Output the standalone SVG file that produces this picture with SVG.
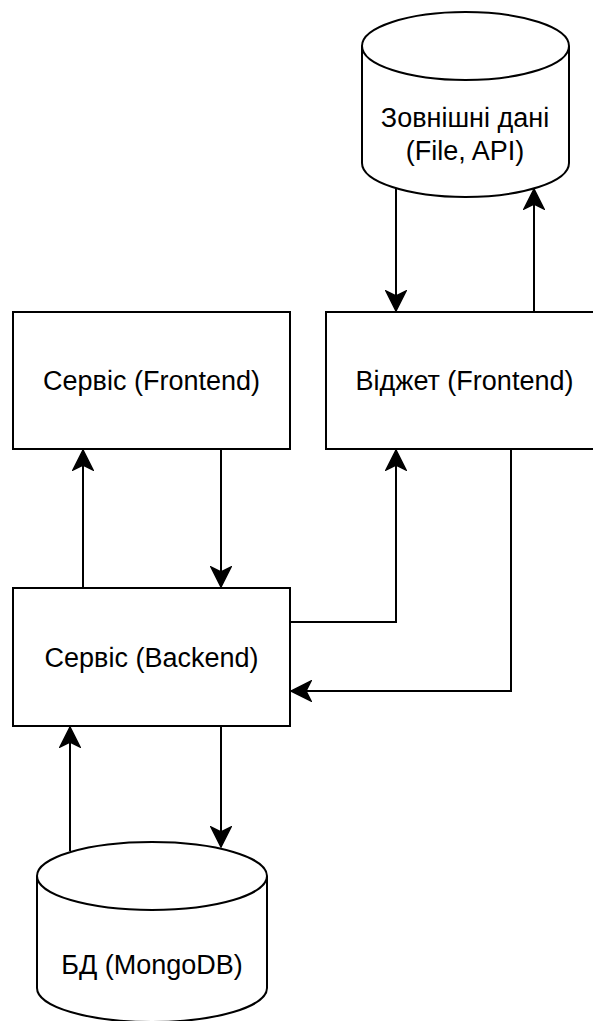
<svg xmlns="http://www.w3.org/2000/svg" width="593" height="1021" viewBox="0 0 593 1021">
  <style>
    .shape { fill: #ffffff; stroke: #000000; stroke-width: 2; }
    .inner { fill: none; stroke: #000000; stroke-width: 2; }
    .edge { fill: none; stroke: #000000; stroke-width: 2; }
    .label { font-family: "Liberation Sans", Arial, sans-serif; font-size: 27px; fill: #000000; text-anchor: middle; }
  </style>
  <defs>
    <marker id="arrow" markerUnits="userSpaceOnUse" markerWidth="22" markerHeight="22" viewBox="0 0 22 22" refX="21" refY="11" orient="auto">
      <path d="M21,11 L1,1 L6,11 L1,21 Z" fill="#000000" stroke="#000000" stroke-width="1.5" stroke-linejoin="miter"/>
    </marker>
  </defs>
  <rect width="593" height="1021" fill="#ffffff"/>

  <g id="external-data">
    <path class="shape" d="M362,46 A103.5,34 0 0 1 569,46 L569,163 A103.5,34 0 0 1 362,163 Z"/>
    <path class="inner" d="M362,46 A103.5,34 0 0 0 569,46"/>
    <text class="label" x="465" y="127">Зовнішні дані</text>
    <text class="label" x="465" y="160">(File, API)</text>
  </g>

  <g id="service-frontend">
    <rect class="shape" x="13" y="312" width="277" height="137"/>
    <text class="label" x="151.5" y="390">Сервіс (Frontend)</text>
  </g>

  <g id="widget-frontend">
    <rect class="shape" x="326" y="312" width="277" height="137"/>
    <text class="label" x="464.5" y="390">Віджет (Frontend)</text>
  </g>

  <g id="service-backend">
    <rect class="shape" x="13" y="588" width="277" height="138"/>
    <text class="label" x="151.5" y="667">Сервіс (Backend)</text>
  </g>

  <g id="database">
    <path class="shape" d="M37,876 A115,34 0 0 1 267,876 L267,988 A115,34 0 0 1 37,988 Z"/>
    <path class="inner" d="M37,876 A115,34 0 0 0 267,876"/>
    <text class="label" x="152" y="974">БД (MongoDB)</text>
  </g>

  <g id="connectors">
    <path class="edge" d="M396,188 L396,311" marker-end="url(#arrow)"/>
    <path class="edge" d="M534,312 L534,189" marker-end="url(#arrow)"/>
    <path class="edge" d="M83,588 L83,450" marker-end="url(#arrow)"/>
    <path class="edge" d="M221,449 L221,587" marker-end="url(#arrow)"/>
    <path class="edge" d="M290,622 L396,622 L396,450" marker-end="url(#arrow)"/>
    <path class="edge" d="M511,449 L511,691 L291,691" marker-end="url(#arrow)"/>
    <path class="edge" d="M70,851 L70,727" marker-end="url(#arrow)"/>
    <path class="edge" d="M221,726 L221,847" marker-end="url(#arrow)"/>
  </g>
</svg>
